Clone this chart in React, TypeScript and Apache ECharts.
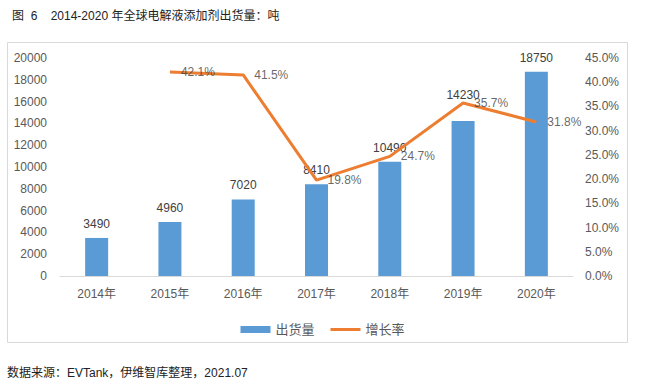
import React, { useEffect, useRef } from "react";
import * as echarts from "echarts";

const categories = ["2014年", "2015年", "2016年", "2017年", "2018年", "2019年", "2020年"];
const shipments = [3490, 4960, 7020, 8410, 10490, 14230, 18750];
const growth: (number | null)[] = [null, 42.1, 41.5, 19.8, 24.7, 35.7, 31.8];
const titleText = "图  6    2014-2020 年全球电解液添加剂出货量：吨";
const sourceText = "数据来源：EVTank，伊维智库整理，2021.07";

const FONT = "'Liberation Sans', 'Noto Sans CJK SC', sans-serif";

export default function App() {
  const ref = useRef<HTMLDivElement>(null);
  useEffect(() => {
    if (!ref.current) return;
    const chart = echarts.init(ref.current, undefined, { renderer: "svg" });
    const pctLabel = {
      show: true,
      position: "right",
      distance: 11,
      color: "#404040",
      fontSize: 12,
      fontFamily: FONT,
      formatter: (p: any) => Number(p.value).toFixed(1) + "%",
    };
    chart.setOption({
      animation: false,
      backgroundColor: "#ffffff",
      textStyle: { fontFamily: FONT },
      title: {
        text: titleText,
        left: 7,
        top: 5,
        textStyle: { fontSize: 12, fontWeight: "normal", color: "#222", fontFamily: FONT },
      },
      graphic: [
        {
          type: "rect",
          shape: { x: 7.5, y: 42.5, width: 620, height: 300 },
          style: { fill: "none", stroke: "#d9d9d9", lineWidth: 1 },
          silent: true,
        },
        {
          type: "text",
          left: 7,
          top: 367,
          style: { text: sourceText, fontSize: 12, fill: "#222", fontFamily: FONT },
        },
      ],
      grid: { left: 60, right: 72, top: 58, bottom: 113 },
      legend: {
        top: 318,
        left: "center",
        itemWidth: 30,
        itemHeight: 7,
        itemGap: 16,
        textStyle: { fontSize: 13, color: "#595959", fontFamily: FONT },
        data: [
          { name: "出货量", icon: "rect" },
          { name: "增长率", icon: "path://M0,0L30,0L30,3L0,3Z" },
        ],
      },
      xAxis: {
        type: "category",
        data: categories,
        axisLine: { lineStyle: { color: "#d9d9d9" } },
        axisTick: { show: false },
        axisLabel: { color: "#595959", fontSize: 12, margin: 12, fontFamily: FONT },
      },
      yAxis: [
        {
          type: "value",
          min: 0,
          max: 20000,
          interval: 2000,
          splitLine: { show: false },
          axisLine: { show: false },
          axisTick: { show: false },
          axisLabel: {
            color: "#595959",
            fontSize: 12,
            margin: 13,
            fontFamily: FONT,
            formatter: (v: number) => String(v),
          },
        },
        {
          type: "value",
          min: 0,
          max: 45,
          interval: 5,
          splitLine: { show: false },
          axisLine: { show: false },
          axisTick: { show: false },
          axisLabel: {
            color: "#595959",
            fontSize: 12,
            margin: 12,
            fontFamily: FONT,
            formatter: (v: number) => v.toFixed(1) + "%",
          },
        },
      ],
      series: [
        {
          name: "出货量",
          type: "bar",
          barWidth: 23,
          itemStyle: { color: "#5B9BD5" },
          data: shipments.map((v, i) =>
            i === 5 ? { value: v, label: { distance: 20 } } : v
          ),
          label: {
            show: true,
            position: "top",
            distance: 8,
            color: "#404040",
            fontSize: 12,
            fontFamily: FONT,
          },
        },
        {
          name: "增长率",
          type: "line",
          yAxisIndex: 1,
          symbol: "none",
          lineStyle: { color: "#ED7D31", width: 3 },
          itemStyle: { color: "#ED7D31" },
          data: growth,
        },
        {
          name: "增长率标签",
          type: "scatter",
          yAxisIndex: 1,
          symbolSize: 0,
          itemStyle: { color: "rgba(0,0,0,0)" },
          data: growth,
          label: pctLabel,
          z: 5,
        },
      ],
    });
    return () => chart.dispose();
  }, []);
  return (
    <div
      ref={ref}
      style={{ position: "fixed", left: 0, top: 0, width: 645, height: 389 }}
    />
  );
}
